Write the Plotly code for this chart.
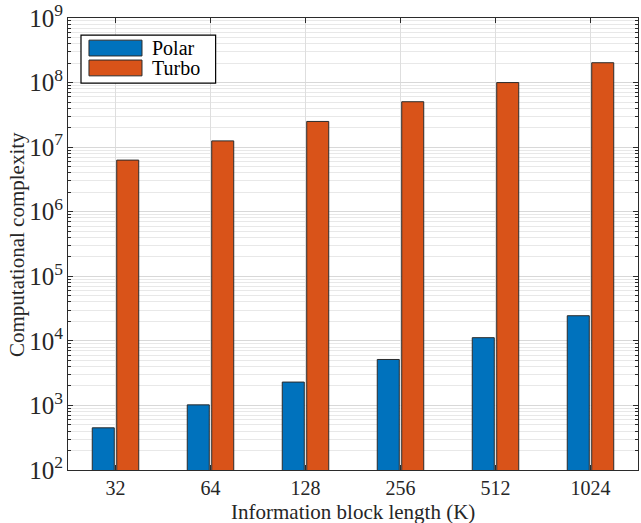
import plotly.graph_objects as go

categories = ["32", "64", "128", "256", "512", "1024"]
polar_values = [450, 1020, 2300, 5150, 11200, 24500]
turbo_values = [6.3e6, 1.25e7, 2.5e7, 5.05e7, 1.0e8, 2.03e8]
series_names = ["Polar", "Turbo"]
series_colors = ["#0072BD", "#D95319"]
x_title = "Information block length (K)"
y_title = "Computational complexity"

FONT = "Liberation Serif"
EDGE = "#2b2b2b"
GRID = "#dedede"
TXT = "#262626"

fig = go.Figure()
for name, vals, col in zip(series_names, [polar_values, turbo_values], series_colors):
    fig.add_trace(go.Bar(
        x=categories, y=vals, name=name,
        marker=dict(color=col, line=dict(color=EDGE, width=1)),
        showlegend=False,
    ))

# MATLAB-like legend box drawn in paper coordinates
shapes = [dict(type="rect", xref="paper", yref="paper", x0=0.0228, x1=0.259, y0=0.856, y1=0.962,
               line=dict(color="#000000", width=1.2), fillcolor="white", layer="above")]
annotations = []
rows = [(0.916, 0.951), (0.872, 0.907)]
for (y0, y1), name, col in zip(rows, series_names, series_colors):
    shapes.append(dict(type="rect", xref="paper", yref="paper", x0=0.0368, x1=0.1298, y0=y0, y1=y1,
                       line=dict(color=EDGE, width=1), fillcolor=col, layer="above"))
    annotations.append(dict(xref="paper", yref="paper", x=0.1439, y=(y0 + y1) / 2, text=name,
                            showarrow=False, xanchor="left", yanchor="middle",
                            font=dict(family=FONT, size=20, color="#000000")))

annotations.append(dict(xref="paper", yref="paper", x=0.5, y=-0.093, text=x_title, showarrow=False,
                        xanchor="center", yanchor="middle", font=dict(family=FONT, size=21, color=TXT)))
annotations.append(dict(xref="paper", yref="paper", x=-0.0895, y=0.5, text=y_title, showarrow=False,
                        textangle=-90, xanchor="center", yanchor="middle",
                        font=dict(family=FONT, size=21, color=TXT)))

fig.update_layout(
    width=641, height=523,
    margin=dict(l=68, r=3, t=18, b=53),
    paper_bgcolor="white", plot_bgcolor="white",
    barmode="group", bargap=0.485, bargroupgap=0.1,
    font=dict(family=FONT, size=20, color=TXT),
    shapes=shapes, annotations=annotations,
)
fig.update_xaxes(
    type="category", automargin=False,
    showline=True, linecolor=EDGE, linewidth=1, mirror="allticks",
    ticks="inside", ticklen=5, tickcolor=EDGE,
    showgrid=True, gridcolor=GRID, gridwidth=1,
    tickfont=dict(family=FONT, size=20, color=TXT),
)
fig.update_yaxes(
    type="log", range=[2, 9], automargin=False,
    tickmode="linear", tick0=0, dtick=1, exponentformat="power",
    showline=True, linecolor=EDGE, linewidth=1, mirror="allticks",
    ticks="inside", ticklen=5, tickcolor=EDGE,
    showgrid=True, gridcolor="#d8d8d8", gridwidth=1,
    minor=dict(dtick="D1", ticks="inside", ticklen=3, tickcolor=EDGE,
               showgrid=True, gridcolor="#e8e8e8", griddash="solid", gridwidth=1),
    tickfont=dict(family=FONT, size=20, color=TXT),
)

fig.write_html("out.html", config={"displayModeBar": False},
               post_script="document.body.style.margin='0';document.body.style.padding='0';")
